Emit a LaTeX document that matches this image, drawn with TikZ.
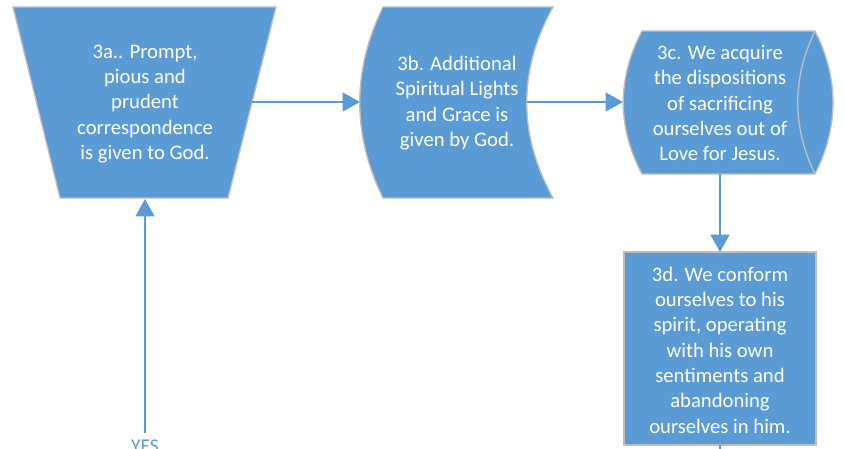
\documentclass[tikz,border=0pt]{standalone}
\usepackage{fontspec}
\setmainfont{Carlito}
\usetikzlibrary{arrows.meta}
\definecolor{boxblue}{HTML}{5B9BD5}
\definecolor{boxline}{HTML}{BFBFBF}

\begin{document}
\begin{tikzpicture}[x=.75pt,y=-.75pt,
  blk/.style={fill=boxblue,draw=boxline,line width=1pt},
  txt/.style={text=white,align=center,font=\fontsize{15.5}{19}\selectfont,inner sep=0pt},
  flow/.style={draw=boxblue,line width=1.6pt,-{Triangle[length=13pt,width=14pt]}}]
\useasboundingbox (0,0) rectangle (845,449);
% 3a: manual operation
\draw[blk] (13,7)--(276,7)--(228,198)--(60,198)--cycle;
\node[txt](a)at(145,104){3a.. Prompt,\\pious and\\prudent\\correspondence\\is given to God.};
% 3b: stored data
\draw[blk] (383,7)--(553,7) .. controls (518,70) and (518,135) .. (553,198)--(383,198) .. controls (352,135) and (352,70) .. cycle;
\node[txt](b)at(457,103){3b. Additional\\Spiritual Lights\\and Grace is\\given by God.};
% 3c: direct access storage
\draw[blk] (642,31)--(815,31) .. controls (839,78) and (839,127) .. (815,174)--(642,174) .. controls (617,127) and (617,78) .. cycle;
\draw[draw=boxline,line width=1pt] (815,31) .. controls (792,78) and (792,127) .. (815,174);
\node[txt](c)at(720,103){3c. We acquire\\the dispositions\\of sacrificing\\ourselves out of\\Love for Jesus.};
% 3d: process
\draw[blk] (624,252) rectangle (816,445);
\node[txt](d)at(720,350){3d. We conform\\ourselves to his\\spirit, operating\\with his own\\sentiments and\\abandoning\\ourselves in him.};
\node[text=boxblue,font=\fontsize{14.6}{17}\selectfont,anchor=base,inner sep=5pt](yes)at(145,452.5){YES};
% edges of the shapes
\coordinate(a-e)at(252,102);
\coordinate(a-s)at(145,199);
\coordinate(b-w)at(360,102);
\coordinate(b-e)at(527,102);
\coordinate(c-w)at(623,102);
\coordinate(c-s)at(720,174);
\coordinate(d-n)at(720,252);
\coordinate(d-s)at(720,445);
\coordinate(d-out)at(720,449);
\draw[flow] (a-e)--(b-w);
\draw[flow] (b-e)--(c-w);
\draw[flow] (c-s)--(d-n);
\draw[flow] (yes.north)--(a-s);
\draw[draw=boxblue,line width=1.6pt] (d-s)--(d-out);
\end{tikzpicture}
\end{document}
